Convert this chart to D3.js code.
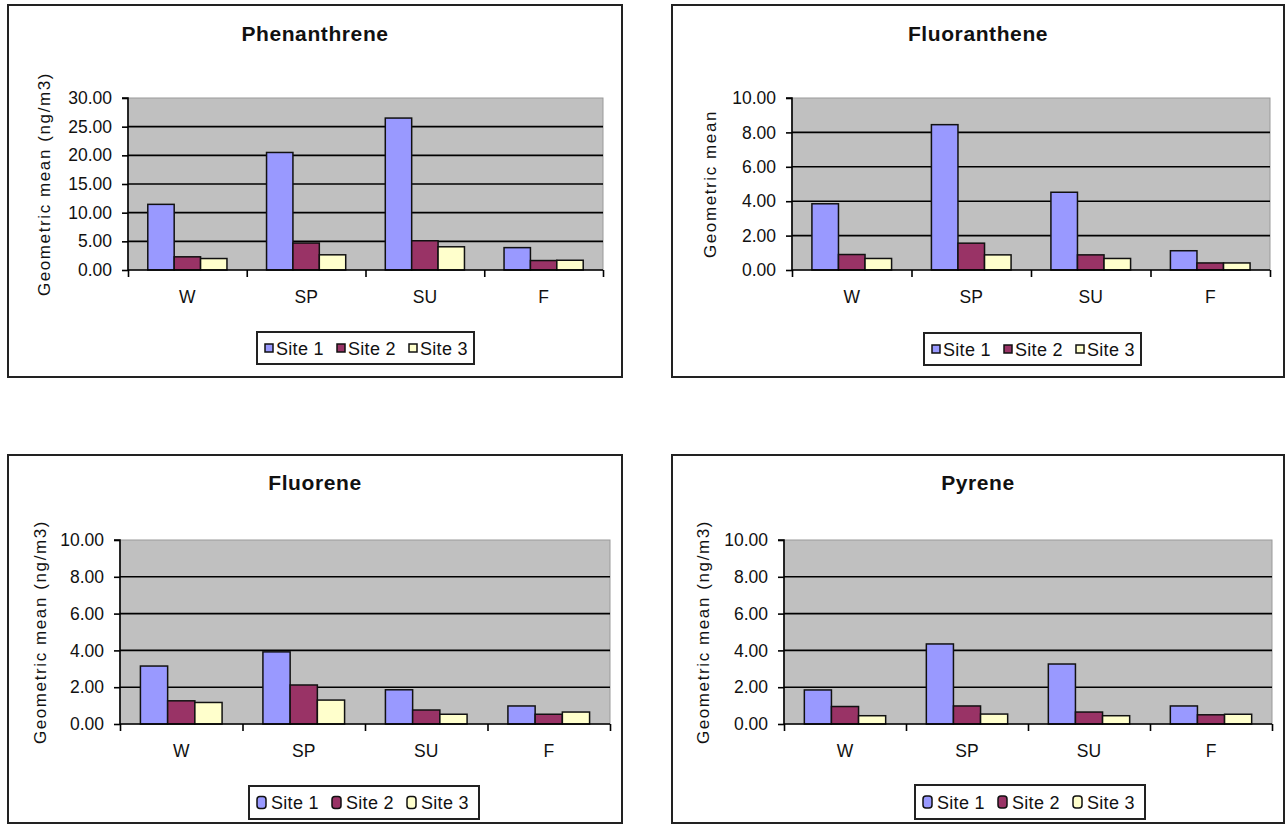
<!DOCTYPE html>
<html>
<head>
<meta charset="utf-8">
<script src="https://cdn.jsdelivr.net/npm/d3@7"></script>
<style>
  html, body { margin: 0; padding: 0; background: #fff; }
  svg { display: block; font-family: Arial, "Liberation Sans", sans-serif; }
</style>
</head>
<body>
<svg id="chart" width="1287" height="825"></svg>
<script>
// ---------------- DATA ----------------
const categories = ["W", "SP", "SU", "F"];
const seriesNames = ["Site 1", "Site 2", "Site 3"];

// values per series (Site 1, Site 2, Site 3), each over W, SP, SU, F
const phenanthreneSite1 = [11.45, 20.5, 26.5, 3.9];
const phenanthreneSite2 = [2.3, 4.7, 5.1, 1.65];
const phenanthreneSite3 = [2.0, 2.65, 4.05, 1.7];

const fluorantheneSite1 = [3.85, 8.45, 4.52, 1.12];
const fluorantheneSite2 = [0.9, 1.56, 0.88, 0.41];
const fluorantheneSite3 = [0.67, 0.88, 0.67, 0.41];

const fluoreneSite1 = [3.15, 3.92, 1.86, 0.98];
const fluoreneSite2 = [1.26, 2.12, 0.76, 0.53];
const fluoreneSite3 = [1.17, 1.3, 0.53, 0.65];

const pyreneSite1 = [1.85, 4.35, 3.26, 0.98];
const pyreneSite2 = [0.95, 0.98, 0.65, 0.5];
const pyreneSite3 = [0.45, 0.54, 0.45, 0.53];

const ticksPhenanthrene = [0, 5, 10, 15, 20, 25, 30];
const ticksTen = [0, 2, 4, 6, 8, 10];

const titles = ["Phenanthrene", "Fluoranthene", "Fluorene", "Pyrene"];
const yLabels = ["Geometric mean (ng/m3)", "Geometric mean", "Geometric mean (ng/m3)", "Geometric mean (ng/m3)"];

// ---------------- LAYOUT / STYLE ----------------
const colors = ["#9999FF", "#993366", "#FFFFCC"];
const fontFam = 'Arial, "Liberation Sans", sans-serif';

const panels = [
  { title: titles[0], ylabel: yLabels[0], series: [phenanthreneSite1, phenanthreneSite2, phenanthreneSite3],
    ticks: ticksPhenanthrene, box: [8, 5, 622, 377], plot: [128, 98, 603, 270],
    legend: [257, 332, 474, 364], legendStep: 72, swatch: "square", ylabX: 50, titleY: 41 },
  { title: titles[1], ylabel: yLabels[1], series: [fluorantheneSite1, fluorantheneSite2, fluorantheneSite3],
    ticks: ticksTen, box: [672, 5, 1284, 377], plot: [792, 98, 1270, 270],
    legend: [924, 333, 1141, 365], legendStep: 72, swatch: "square", ylabX: 716, titleY: 41 },
  { title: titles[2], ylabel: yLabels[2], series: [fluoreneSite1, fluoreneSite2, fluoreneSite3],
    ticks: ticksTen, box: [8, 455, 622, 823], plot: [120, 540, 610, 724],
    legend: [249, 786, 479, 819], legendStep: 75, swatch: "round", ylabX: 46, titleY: 490 },
  { title: titles[3], ylabel: yLabels[3], series: [pyreneSite1, pyreneSite2, pyreneSite3],
    ticks: ticksTen, box: [672, 455, 1284, 823], plot: [784, 540, 1272, 724],
    legend: [915, 785, 1145, 819], legendStep: 75, swatch: "round", ylabX: 709, titleY: 490 }
];

const svg = d3.select("#chart");
const fmt = d3.format(".2f");

panels.forEach(p => {
  const g = svg.append("g");
  const [bx0, by0, bx1, by1] = p.box;
  const [px0, py0, px1, py1] = p.plot;

  // outer chart border
  g.append("rect")
    .attr("x", bx0).attr("y", by0)
    .attr("width", bx1 - bx0).attr("height", by1 - by0)
    .attr("fill", "#fff").attr("stroke", "#222").attr("stroke-width", 2);

  // title
  g.append("text")
    .attr("x", (bx0 + bx1) / 2).attr("y", p.titleY)
    .attr("text-anchor", "middle")
    .attr("font-size", 21).attr("font-weight", "bold")
    .attr("letter-spacing", 0.6)
    .attr("fill", "#111")
    .text(p.title);

  const yMax = d3.max(p.ticks);
  const y = d3.scaleLinear().domain([0, yMax]).range([py1, py0]);
  const x0 = d3.scaleBand().domain(categories).range([px0, px1]).paddingInner(0).paddingOuter(0);
  const x1 = d3.scaleBand().domain(seriesNames).range([0, x0.bandwidth()]).paddingInner(0).paddingOuter(0.75);
  const xb = d3.scaleLinear().domain([0, categories.length]).range([px0, px1]);

  // plot area
  g.append("rect")
    .attr("x", px0).attr("y", py0)
    .attr("width", px1 - px0).attr("height", py1 - py0)
    .attr("fill", "#C0C0C0").attr("stroke", "#9a9a9a").attr("stroke-width", 1);

  // gridlines
  g.append("g").selectAll("line")
    .data(p.ticks.filter(t => t > 0 && t < yMax))
    .join("line")
    .attr("x1", px0).attr("x2", px1)
    .attr("y1", d => y(d)).attr("y2", d => y(d))
    .attr("stroke", "#000").attr("stroke-width", 1.6);

  // bars
  const rows = [];
  p.series.forEach((vals, si) => {
    vals.forEach((v, ci) => rows.push({ cat: categories[ci], s: seriesNames[si], si, v }));
  });
  g.append("g").selectAll("rect")
    .data(rows)
    .join("rect")
    .attr("x", d => x0(d.cat) + x1(d.s))
    .attr("y", d => y(d.v))
    .attr("width", x1.bandwidth())
    .attr("height", d => y(0) - y(d.v))
    .attr("fill", d => colors[d.si])
    .attr("stroke", "#111").attr("stroke-width", 1.5);

  // left axis
  const yAxis = d3.axisLeft(y).tickValues(p.ticks).tickSize(6).tickPadding(10).tickFormat(fmt);
  const ya = g.append("g").attr("transform", `translate(${px0},0)`).call(yAxis);
  ya.select(".domain").attr("stroke", "#000").attr("stroke-width", 1.6).attr("d", `M-6,${py0}H0V${py1}`);
  ya.selectAll(".tick line").attr("stroke", "#000").attr("stroke-width", 1.6);
  ya.selectAll(".tick text")
    .attr("font-size", 17.5).attr("font-family", fontFam).attr("fill", "#111");

  // bottom axis: boundary ticks
  const xAxis = d3.axisBottom(xb).tickValues(d3.range(categories.length + 1)).tickSize(7).tickFormat("");
  const xa = g.append("g").attr("transform", `translate(0,${py1})`).call(xAxis);
  xa.select(".domain").attr("stroke", "#000").attr("stroke-width", 1.6).attr("d", `M${px0},0H${px1}`);
  xa.selectAll(".tick line").attr("stroke", "#000").attr("stroke-width", 1.6);

  // category labels
  const xl = d3.axisBottom(x0).tickSize(0).tickPadding(21);
  const xla = g.append("g").attr("transform", `translate(0,${py1})`).call(xl);
  xla.select(".domain").remove();
  xla.selectAll(".tick text")
    .attr("font-size", 17.5).attr("font-family", fontFam).attr("fill", "#111");

  // y-axis label
  g.append("text")
    .attr("transform", `translate(${p.ylabX},${(py0 + py1) / 2}) rotate(-90)`)
    .attr("text-anchor", "middle")
    .attr("font-size", 17).attr("letter-spacing", 1.6)
    .attr("fill", "#111")
    .text(p.ylabel);

  // legend
  const [lx0, ly0, lx1, ly1] = p.legend;
  g.append("rect")
    .attr("x", lx0).attr("y", ly0)
    .attr("width", lx1 - lx0).attr("height", ly1 - ly0)
    .attr("fill", "#fff").attr("stroke", "#222").attr("stroke-width", 2);
  const lc = (ly0 + ly1) / 2;
  const items = g.append("g").selectAll("g")
    .data(seriesNames)
    .join("g")
    .attr("transform", (d, i) => `translate(${lx0 + 8 + i * p.legendStep},${lc})`);
  if (p.swatch === "square") {
    items.append("rect")
      .attr("x", 0).attr("y", -4).attr("width", 8).attr("height", 8)
      .attr("fill", (d, i) => colors[i]).attr("stroke", "#111").attr("stroke-width", 1.5);
  } else {
    items.append("rect")
      .attr("x", 0).attr("y", -6).attr("width", 9).attr("height", 12)
      .attr("rx", 3).attr("ry", 3)
      .attr("fill", (d, i) => colors[i]).attr("stroke", "#111").attr("stroke-width", 1.5);
  }
  items.append("text")
    .attr("x", p.swatch === "square" ? 11 : 14).attr("y", 6.5)
    .attr("font-size", 18).attr("letter-spacing", 0.3)
    .attr("fill", "#111")
    .text(d => d);
});
</script>
</body>
</html>
